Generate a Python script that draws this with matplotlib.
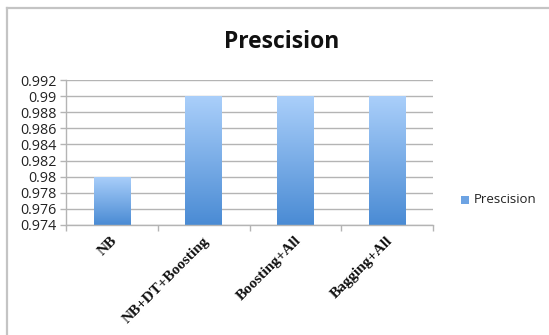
import matplotlib
matplotlib.use("Agg")
import matplotlib.pyplot as plt
import numpy as np
from matplotlib.colors import LinearSegmentedColormap
from matplotlib.lines import Line2D
from matplotlib.patches import Rectangle

models = ["NB", "NB+DT+Boosting", "Boosting+All", "Bagging+All"]
precision = [0.98, 0.99, 0.99, 0.99]
series_name = "Prescision"
y_ticks = [0.974, 0.976, 0.978, 0.98, 0.982, 0.984, 0.986, 0.988, 0.99, 0.992]
y_labels = ["0.974", "0.976", "0.978", "0.98", "0.982", "0.984", "0.986",
            "0.988", "0.99", "0.992"]

TOP_BLUE = "#aacffa"
BOTTOM_BLUE = "#4a8bd4"
GRID = "#b4b4b4"
grad = LinearSegmentedColormap.from_list("bar", [BOTTOM_BLUE, TOP_BLUE])

W, H = 549, 335
fig = plt.figure(figsize=(W / 100, H / 100), dpi=100)
fig.patch.set_facecolor("white")

# chart frame (only left and top edges fall inside the image)
fig.add_artist(Line2D([6.5 / W, 6.5 / W], [0, 1 - 8 / H], color="#c4c4c4",
                      lw=1.6, transform=fig.transFigure))
fig.add_artist(Line2D([6.5 / W, 1], [1 - 8 / H, 1 - 8 / H], color="#c4c4c4",
                      lw=1.6, transform=fig.transFigure))

ax = fig.add_axes([66 / W, 1 - 225 / H, (433 - 66) / W, (225 - 80) / H])
ymin, ymax = y_ticks[0], y_ticks[-1]

x = np.arange(len(models)) + 0.5
bar_w = 0.4
gradient = np.linspace(0, 1, 256).reshape(-1, 1)
for xi, v in zip(x, precision):
    rect = Rectangle((xi - bar_w / 2, ymin), bar_w, v - ymin,
                     facecolor="none", edgecolor="none")
    ax.add_patch(rect)
    im = ax.imshow(gradient, cmap=grad, origin="lower", aspect="auto",
                   extent=(xi - bar_w / 2, xi + bar_w / 2, ymin, v), zorder=2)
    im.set_clip_path(rect)

ax.set_xlim(0, len(models))
ax.set_ylim(ymin, ymax)
ax.set_yticks(y_ticks)
ax.set_yticklabels(y_labels, fontsize=10.3, family="Open Sans")
ax.yaxis.grid(True, color=GRID, lw=1.0)
ax.set_axisbelow(True)

ax.set_xticks(np.arange(len(models) + 1))
ax.set_xticklabels([])
ax.tick_params(axis="x", length=4, color=GRID, width=1)
ax.tick_params(axis="y", length=4, color=GRID, width=1, pad=3)
for t in ax.get_yticklabels():
    t.set_color("#222222")

for side in ("top", "right"):
    ax.spines[side].set_visible(False)
for side in ("left", "bottom"):
    ax.spines[side].set_color(GRID)
    ax.spines[side].set_linewidth(1.0)

for xi, name in zip(x, models):
    ax.text(xi + 0.04, -0.095, name, transform=ax.get_xaxis_transform(),
            rotation=45, rotation_mode="anchor", ha="right", va="center",
            fontsize=11, fontweight="bold", family="Liberation Serif",
            color="#111111")

fig.text(282 / W, 1 - 42 / H, "Prescision", ha="center", va="center",
         fontsize=16.5, fontweight="bold", family="Open Sans", color="#111111")

# legend
fig.add_artist(Rectangle((461 / W, 1 - 203.5 / H), 8 / W, 8 / H,
                         facecolor="#6da3e3", edgecolor="none",
                         transform=fig.transFigure))
fig.text(474 / W, 1 - 199.5 / H, series_name, ha="left", va="center",
         fontsize=9.5, family="Open Sans", color="#222222")

fig.savefig("out.png", dpi=100, facecolor="white")
